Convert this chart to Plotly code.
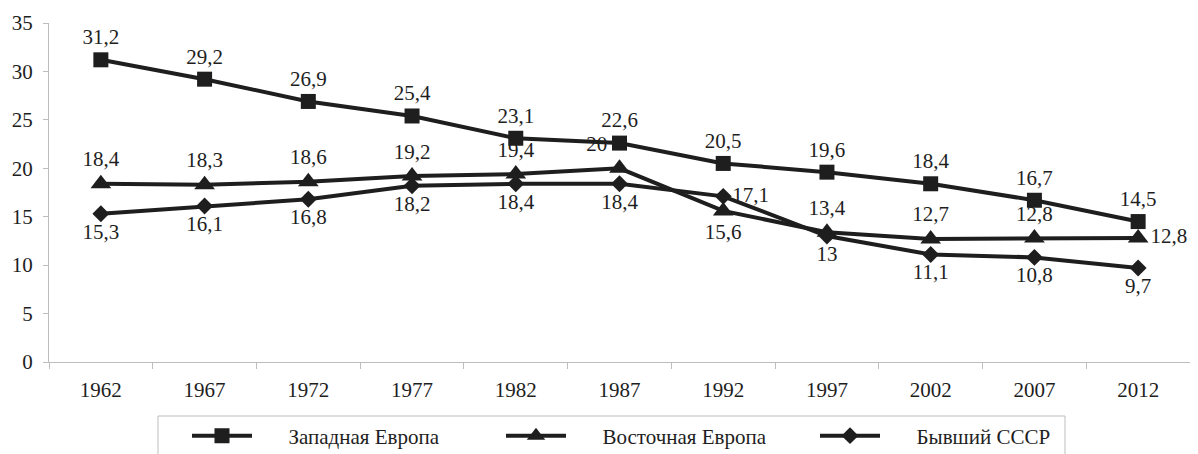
import plotly.graph_objects as go

years = ["1962", "1967", "1972", "1977", "1982", "1987", "1992", "1997", "2002", "2007", "2012"]
west = [31.2, 29.2, 26.9, 25.4, 23.1, 22.6, 20.5, 19.6, 18.4, 16.7, 14.5]
east = [18.4, 18.3, 18.6, 19.2, 19.4, 20, 15.6, 13.4, 12.7, 12.8, 12.8]
ussr = [15.3, 16.1, 16.8, 18.2, 18.4, 18.4, 17.1, 13, 11.1, 10.8, 9.7]
names = ["Западная Европа", "Восточная Европа", "Бывший СССР"]

west_pos = ["top center"] * 11
east_pos = ["top center"] * 5 + ["top left", "bottom center", "top center", "top center", "top center", "middle right"]
ussr_pos = ["bottom center"] * 6 + ["middle right", "bottom center", "bottom center", "bottom center", "bottom center"]


def lbl(vals):
    return [f"{v:g}".replace(".", ",") for v in vals]


FONT = "Liberation Serif"
FS = 21
INK = "#1e1e1e"
AX = "#bdbdbd"
GAP = "\u00a0" * 6

fig = go.Figure()
series = [
    (west, names[0], "square", 15, west_pos),
    (east, names[1], "triangle-up", 18, east_pos),
    (ussr, names[2], "diamond", 13, ussr_pos),
]
for vals, name, sym, sz, pos in series:
    fig.add_trace(go.Scatter(
        x=years, y=vals, name=GAP + name, mode="lines+markers+text",
        line=dict(color=INK, width=4),
        marker=dict(symbol=sym, size=sz, color=INK),
        text=lbl(vals), textposition=pos,
        textfont=dict(family=FONT, size=FS, color=INK),
        cliponaxis=False,
    ))

# page is offset by the default 8px body margin
OFF = 8
W, H = 1198 - OFF, 454 - OFF
# target plot area in page pixels: x 49..1190, y 23..362
L, R, T, B = 49 - OFF, 1198 - OFF - (1190 - OFF), 23 - OFF, (454 - OFF) - (362 - OFF)
pw, ph = W - L - R, H - T - B


def px_x(p):
    return (p - OFF - L) / pw


def px_y(p):
    return (H - B - (p - OFF)) / ph


fig.add_shape(type="rect", xref="paper", yref="paper",
              x0=px_x(158), x1=px_x(1065), y0=px_y(416), y1=px_y(470),
              line=dict(color=AX, width=1), fillcolor="rgba(0,0,0,0)")

fig.update_layout(
    width=W, height=H,
    margin=dict(l=L, r=R, t=T, b=B, autoexpand=False),
    paper_bgcolor="white", plot_bgcolor="white",
    font=dict(family=FONT, size=FS, color=INK),
    showlegend=True,
    legend=dict(orientation="h", x=px_x(187), xanchor="left",
                y=px_y(436), yanchor="middle",
                font=dict(family=FONT, size=FS, color=INK),
                itemwidth=60, entrywidth=239, entrywidthmode="pixels",
                bgcolor="rgba(0,0,0,0)"),
    xaxis=dict(type="category", range=[-0.5, 10.5], showgrid=False, zeroline=False,
               showline=True, linecolor=AX, linewidth=1,
               ticks="outside", tickson="boundaries", ticklen=6, tickcolor=AX,
               ticklabelstandoff=9, tickfont=dict(family=FONT, size=FS, color=INK)),
    yaxis=dict(range=[0, 35], dtick=5, showgrid=False, zeroline=False,
               showline=True, linecolor=AX, linewidth=1,
               ticks="outside", ticklen=5, tickcolor=AX,
               ticklabelstandoff=6, tickfont=dict(family=FONT, size=FS, color=INK)),
)

fig.write_html("out.html")
